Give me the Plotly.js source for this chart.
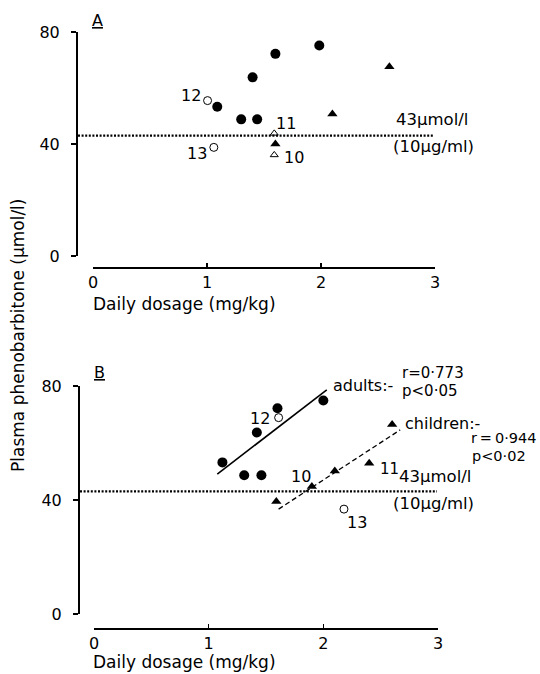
<!DOCTYPE html>
<html><head><meta charset="utf-8">
<script src="https://cdn.plot.ly/plotly-3.0.1.min.js"></script>
<style>html,body{margin:0;padding:0;background:#fff}#chart{width:540px;height:674px}</style>
</head><body><div id="chart"></div>
<script>
// ---------- Panel A data ----------
const adultDoseA = [1.09, 1.30, 1.40, 1.44, 1.60, 1.985];
const adultConcA = [53.3, 48.8, 63.8, 48.8, 72.2, 75.2];
const adultOpenDoseA = [1.005, 1.06];
const adultOpenConcA = [55.5, 38.8];
const childDoseA = [1.60, 2.10, 2.60];
const childConcA = [40.0, 50.7, 67.6];
const childOpenDoseA = [1.59, 1.59];
const childOpenConcA = [43.8, 36.1];

// ---------- Panel B data ----------
const adultDoseB = [1.12, 1.31, 1.42, 1.46, 1.60, 2.00];
const adultConcB = [53.2, 48.7, 63.7, 48.7, 72.2, 74.9];
const adultOpenDoseB = [1.61, 2.18];
const adultOpenConcB = [68.9, 36.8];
const childDoseB = [1.59, 1.90, 2.10, 2.40, 2.60];
const childConcB = [39.5, 44.7, 50.2, 52.9, 66.5];
const adultFitDose = [1.075, 2.03];
const adultFitConc = [49.1, 78.6];
const childFitDose = [1.61, 2.67];
const childFitConc = [36.8, 64.6];

const threshold = 43;
const xTicks = [0, 1, 2, 3];
const yTicks = [0, 40, 80];

const FONT = 'DejaVu Sans, sans-serif';
const K = '#000';

function filledCircles(x, y, xa, ya) {
  return {x, y, xaxis: xa, yaxis: ya, type: 'scatter', mode: 'markers',
    marker: {symbol: 'circle', size: 10, color: K}, showlegend: false, hoverinfo: 'skip'};
}
function openCircles(x, y, xa, ya) {
  return {x, y, xaxis: xa, yaxis: ya, type: 'scatter', mode: 'markers',
    marker: {symbol: 'circle-open', size: 8, color: K, line: {width: 1, color: K}}, showlegend: false, hoverinfo: 'skip'};
}
function filledTri(x, y, xa, ya) {
  return {x, y, xaxis: xa, yaxis: ya, type: 'scatter', mode: 'markers',
    marker: {symbol: 'triangle-up', size: 9, color: K}, showlegend: false, hoverinfo: 'skip'};
}
function openTri(x, y, xa, ya) {
  return {x, y, xaxis: xa, yaxis: ya, type: 'scatter', mode: 'markers',
    marker: {symbol: 'triangle-up-open', size: 7, color: K, line: {width: 1, color: K}}, showlegend: false, hoverinfo: 'skip'};
}

const traces = [
  filledCircles(adultDoseA, adultConcA, 'x', 'y'),
  openCircles(adultOpenDoseA, adultOpenConcA, 'x', 'y'),
  filledTri(childDoseA, childConcA, 'x', 'y'),
  openTri(childOpenDoseA, childOpenConcA, 'x', 'y'),
  {x: adultFitDose, y: adultFitConc, xaxis: 'x2', yaxis: 'y2', type: 'scatter', mode: 'lines',
    line: {color: K, width: 1.6}, showlegend: false, hoverinfo: 'skip'},
  {x: childFitDose, y: childFitConc, xaxis: 'x2', yaxis: 'y2', type: 'scatter', mode: 'lines',
    line: {color: K, width: 1.3, dash: '5px,3px'}, showlegend: false, hoverinfo: 'skip'},
  filledCircles(adultDoseB, adultConcB, 'x2', 'y2'),
  openCircles(adultOpenDoseB, adultOpenConcB, 'x2', 'y2'),
  filledTri(childDoseB, childConcB, 'x2', 'y2')
];

const W = 540, H = 674;
const px = v => v / W;
const py = v => 1 - v / H;

function xAxis(d0, d1, pos) {
  return {domain: [px(d0), px(d1)], range: [0, 3], anchor: 'free', position: py(pos),
    showline: true, linecolor: K, linewidth: 2, ticks: 'inside', ticklen: 4, tickwidth: 1.5, tickcolor: K,
    tickvals: xTicks, ticktext: xTicks.map(String), showgrid: false, zeroline: false,
    tickfont: {family: FONT, size: 16, color: K}, fixedrange: true};
}
function yAxis(d0, d1, pos) {
  return {domain: [py(d1), py(d0)], range: [0, 80], anchor: 'free', position: px(pos),
    showline: true, linecolor: K, linewidth: 2, ticks: 'outside', ticklen: 5, tickwidth: 1.5, tickcolor: K,
    tickvals: yTicks, ticktext: yTicks.map(String), showgrid: false, zeroline: false, ticklabelstandoff: 8,
    tickfont: {family: FONT, size: 16, color: K}, fixedrange: true};
}

function ann(text, x, y, xref, yref, xanchor, size) {
  return {text, x, y, xref, yref, xanchor: xanchor || 'left', yanchor: 'middle', showarrow: false,
    font: {family: FONT, size: size || 16, color: K}};
}
const P = 'paper';

const annotations = [
  // titles
  ann('Daily dosage (mg/kg)', px(91), py(304), P, P, 'left', 17),
  ann('Daily dosage (mg/kg)', px(91), py(662), P, P, 'left', 17),
  Object.assign(ann('Plasma phenobarbitone (µmol/l)', px(18), py(336), P, P, 'center', 17), {textangle: -90}),
  ann('<u>A</u>', px(90), py(20), P, P, 'left', 16),
  ann('<u>B</u>', px(92), py(372), P, P, 'left', 16),
  // panel A labels
  ann('12', px(203), py(95), P, P, 'right'),
  ann('13', px(209), py(153), P, P, 'right'),
  ann('11', px(274), py(123), P, P, 'left'),
  ann('10', px(282), py(157), P, P, 'left'),
  ann('43µmol/l', px(394), py(119), P, P, 'left', 16.5),
  ann('(10µg/ml)', px(391), py(146), P, P, 'left', 16.5),
  // panel B labels
  ann('adults:-', px(331), py(385), P, P, 'left'),
  ann('r=0·773', px(400), py(373), P, P, 'left', 15),
  ann('p<0·05', px(400), py(391), P, P, 'left', 15),
  ann('children:-', px(403), py(423), P, P, 'left'),
  ann('r\u2009=\u20090·944', px(538), py(438), P, P, 'right', 14.5),
  ann('p<0·02', px(470), py(456), P, P, 'left', 14.5),
  ann('11', px(378), py(469), P, P, 'left', 15),
  ann('43µmol/l', px(397), py(477), P, P, 'left', 16.5),
  ann('(10µg/ml)', px(391), py(504), P, P, 'left', 16.5),
  ann('10', px(313), py(477), P, P, 'right'),
  ann('12', px(272), py(418), P, P, 'right'),
  ann('13', px(345), py(522), P, P, 'left')
];

const shapes = [
  {type: 'line', xref: 'paper', yref: 'y', x0: px(78), x1: px(433), y0: threshold, y1: threshold,
    line: {color: K, width: 2.2, dash: '2px,1.6px'}},
  {type: 'line', xref: 'paper', yref: 'y2', x0: px(80), x1: px(437), y0: threshold, y1: threshold,
    line: {color: K, width: 2.2, dash: '2px,1.6px'}}
];

const layout = {
  width: W, height: H, margin: {l: 0, r: 0, t: 0, b: 0},
  paper_bgcolor: '#fff', plot_bgcolor: 'rgba(0,0,0,0)',
  showlegend: false,
  xaxis: xAxis(93, 435, 268),
  yaxis: yAxis(32, 256, 77),
  xaxis2: xAxis(94, 438, 629),
  yaxis2: yAxis(386, 614, 79),
  annotations, shapes,
  font: {family: FONT, color: K}
};

Plotly.newPlot('chart', traces, layout, {displayModeBar: false, staticPlot: true});
</script>
</body></html>
